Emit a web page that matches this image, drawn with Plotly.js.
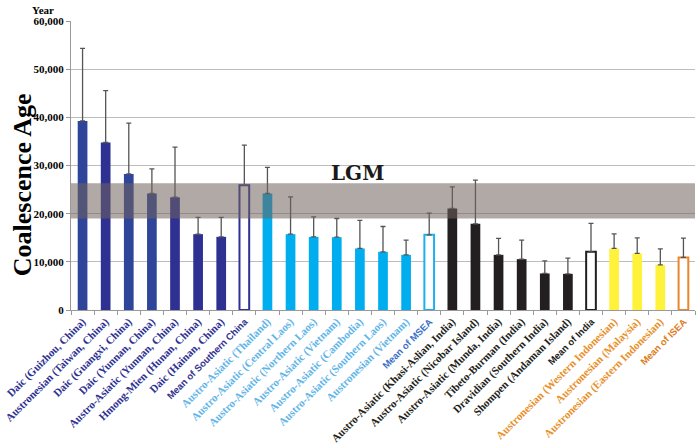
<!DOCTYPE html>
<html><head><meta charset="utf-8">
<script src="https://cdn.plot.ly/plotly-3.0.1.min.js"></script>
<style>html,body{margin:0;padding:0;background:#fff}</style>
</head><body>
<div id="chart" style="width:700px;height:443px"></div>
<script>
var categories = [
  "Daic (Guizhou, China)", "Austronesian (Taiwan, China)", "Daic (Guangxi, China)", "Daic (Yunnan, China)",
  "Austro-Asiatic (Yunnan, China)", "Hmong-Mien (Hunan, China)", "Daic (Hainan, China)", "Mean of Southern China",
  "Austro-Asiatic (Thailand)", "Austro-Asiatic (Central Laos)", "Austro-Asiatic (Northern Laos)", "Austro-Asiatic (Vietnam)",
  "Austro-Asiatic (Cambodia)", "Austro-Asiatic (Southern Laos)", "Austronesian (Vietnam)", "Mean of MSEA",
  "Austro-Asiatic (Khasi-Aslian, India)", "Austro-Asiatic (Nicobar Island)", "Austro-Asiatic (Munda, India)",
  "Tibeto-Burman (India)", "Dravidian (Southern India)", "Shompen (Andaman Island)", "Mean of India",
  "Austronesian (Western Indonesian)", "Austronesian (Malaysia)", "Austronesian (Eastern Indonesian)", "Mean of ISEA"
];
var ages = [39250, 34770, 28260, 24190, 23420, 15750, 15190, 25910,
            24190, 15750, 15190, 15120, 12780, 12080, 11450, 15600,
            21080, 17890, 11450, 10560, 7590, 7510, 12080,
            12780, 11740, 9380, 10910];
var upperErrorTop = [54330, 45560, 38780, 29300, 33800, 19210, 19210, 34210,
                     29590, 23490, 19340, 19000, 18590, 17340, 14500, 20100,
                     25560, 26950, 14850, 14500, 10210, 10770, 17970,
                     15810, 14980, 12700, 14920];
var groups = ["SC","SC","SC","SC","SC","SC","SC","SCm",
              "MS","MS","MS","MS","MS","MS","MS","MSm",
              "IN","IN","IN","IN","IN","IN","INm",
              "IS","IS","IS","ISm"];
var lgmRange = [19000, 26300];
var yTickVals = [0, 10000, 20000, 30000, 40000, 50000, 60000];
var yTickText = ["0", "10,000", "20,000", "30,000", "40,000", "50,000", "60,000"];

var barColor = {SC:"#2e3192", MS:"#00aeef", IN:"#231f20", IS:"#fff23a"};
var meanLine = {SCm:"#2e3192", MSm:"#1fb0ec", INm:"#231f20", ISm:"#e8872b"};
var labelColor = {SC:"#2e3192", SCm:"#33338f", MS:"#5fb5e8", MSm:"#3b6fc5", IN:"#231f20", INm:"#231f20", IS:"#e8902a", ISm:"#e07b20"};

var fillColors = [], lineColors = [], lineWidths = [], tickText = [];
groups.forEach(function(g, i){
  var isMean = g.slice(-1) === "m";
  if (isMean) { fillColors.push("#ffffff"); lineColors.push(meanLine[g]); lineWidths.push(2); }
  else {
    var c = barColor[g];
    if (g === "SC" && (i === 0 || i === 2 || i === 3)) c = "#2f4599";
    fillColors.push(c); lineColors.push(c); lineWidths.push(0);
  }
  var lab = categories[i];
  if (isMean) {
    tickText.push('<span style="font-family:Liberation Sans Narrow, Liberation Sans, Arial;font-size:9.5px;color:' + labelColor[g] + '"><b>' + lab + '</b></span>');
  } else {
    tickText.push('<span style="color:' + labelColor[g] + '"><b>' + lab + '</b></span>');
  }
});
var errPlus = upperErrorTop.map(function(t, i){ return t - ages[i]; });

var trace = {
  type: "bar",
  x: categories,
  y: ages,
  marker: {color: fillColors, line: {color: lineColors, width: lineWidths}},
  error_y: {type: "data", symmetric: false, array: errPlus, arrayminus: ages.map(function(){return 0;}),
            color: "#555555", thickness: 1.3, width: 2.5},
  hoverinfo: "x+y"
};

var layout = {
  width: 700, height: 443,
  margin: {l: 71, r: 5, t: 21, b: 133},
  paper_bgcolor: "#ffffff", plot_bgcolor: "#ffffff",
  bargap: 0.58,
  showlegend: false,
  xaxis: {
    type: "category",
    tickvals: categories, ticktext: tickText,
    tickangle: -45,
    tickson: "boundaries",
    ticks: "outside", ticklen: 4, tickcolor: "#999",
    showline: true, linecolor: "#999", linewidth: 1,
    showgrid: false, zeroline: false,
    tickfont: {family: "Liberation Serif, Times New Roman, serif", size: 11},
    automargin: false
  },
  yaxis: {
    range: [0, 60000],
    tickvals: yTickVals, ticktext: yTickText.map(function(t){ return "<b>" + t + "</b>"; }),
    ticks: "outside", ticklen: 4, tickcolor: "#999",
    showline: true, linecolor: "#999", linewidth: 1,
    showgrid: true, gridcolor: "#bdbdbd", gridwidth: 1,
    zeroline: false,
    tickfont: {family: "Liberation Serif, Times New Roman, serif", size: 11, color: "#000"}
  },
  shapes: [{
    type: "rect", xref: "paper", yref: "y", x0: 0, x1: 1, y0: lgmRange[0], y1: lgmRange[1],
    fillcolor: "rgba(112,99,92,0.55)", line: {width: 0}, layer: "above"
  }],
  annotations: [
    {text: "<b>LGM</b>", xref: "paper", yref: "y", x: 0.459, y: 28400, xanchor: "center", yanchor: "middle", showarrow: false,
     font: {family: "DejaVu Serif, serif", size: 20, color: "#1a1a1a"}},
    {text: "<b>Year</b>", xref: "paper", yref: "paper", x: -0.045, y: 1, xanchor: "center", yanchor: "bottom", yshift: 3, showarrow: false,
     font: {family: "Liberation Serif, Times New Roman, serif", size: 11, color: "#000"}},
    {text: "<b>Coalescence Age</b>", xref: "paper", yref: "paper", x: -0.0785, y: 0.432, xanchor: "center", yanchor: "middle", textangle: -90, showarrow: false,
     font: {family: "Liberation Serif, Times New Roman, serif", size: 26, color: "#000"}}
  ]
};

Plotly.newPlot("chart", [trace], layout, {displayModeBar: false, staticPlot: true});
</script>
</body></html>
